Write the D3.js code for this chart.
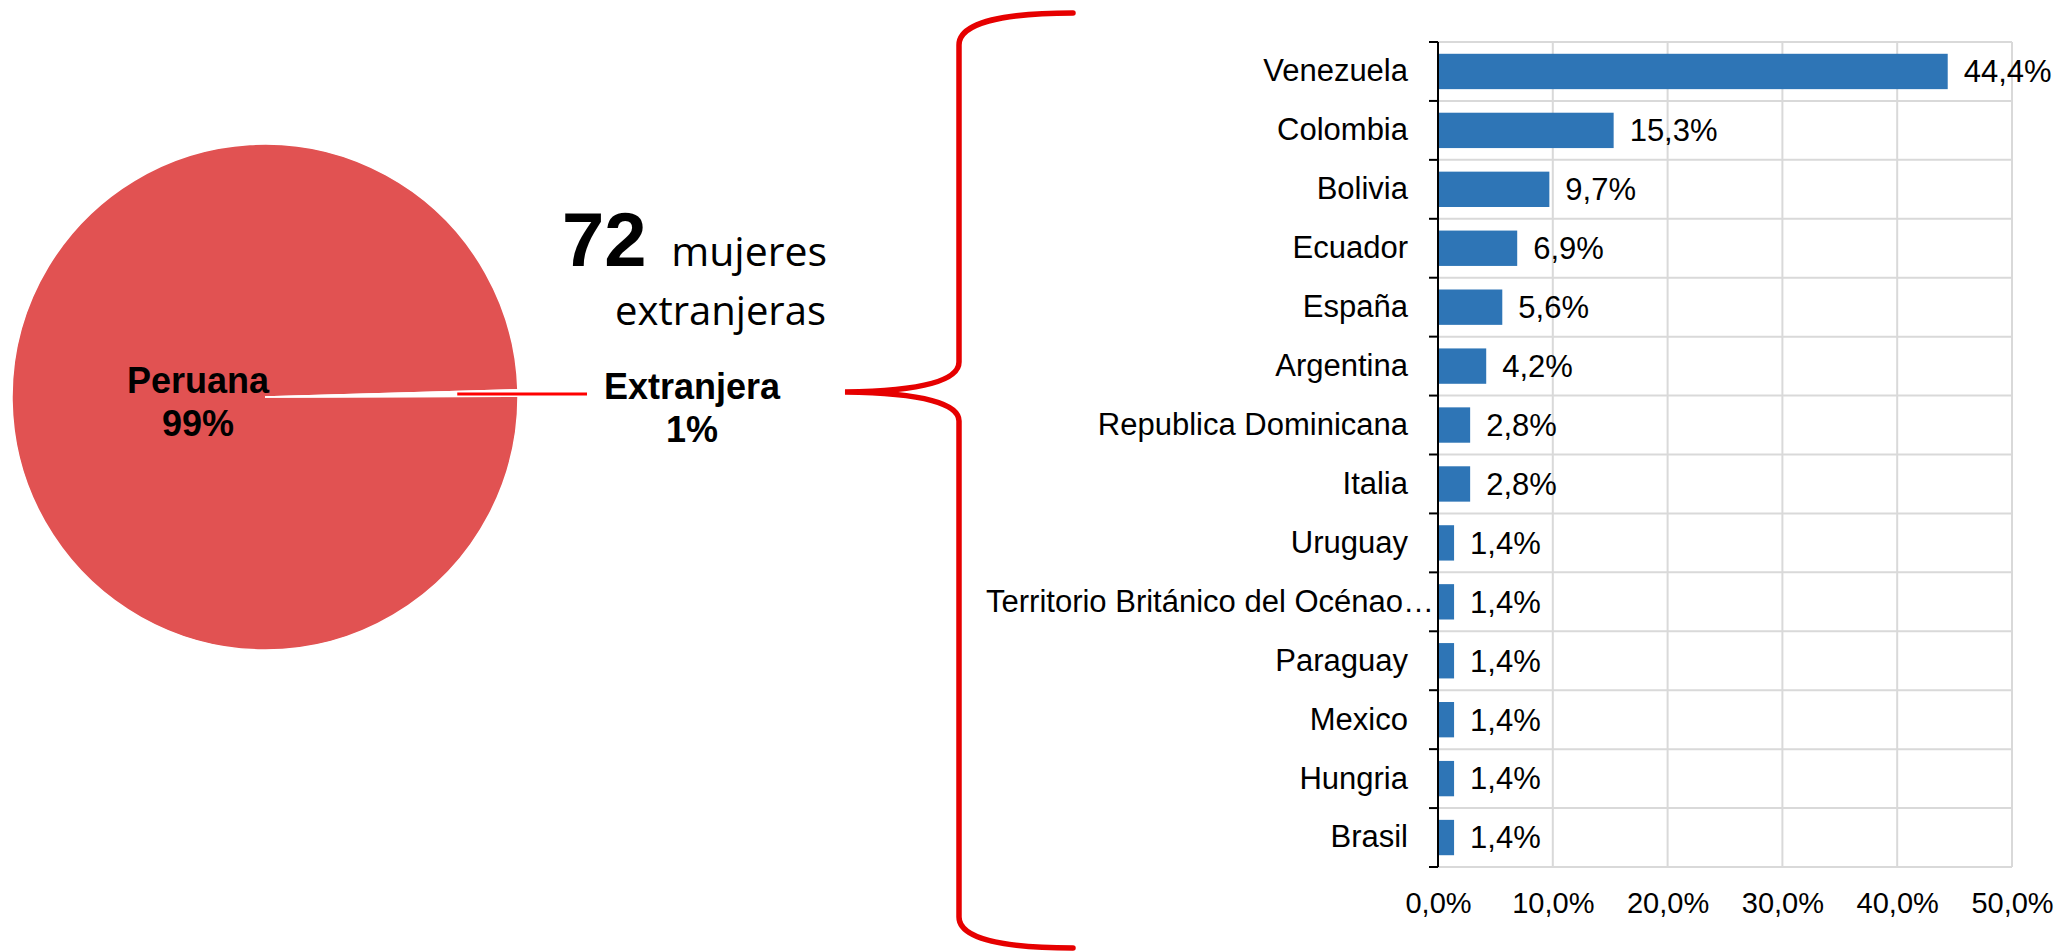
<!DOCTYPE html>
<html>
<head>
<meta charset="utf-8">
<script src="https://cdn.jsdelivr.net/npm/d3@7"></script>
<style>
  body { margin: 0; background: #fff; }
  svg { display: block; }
</style>
</head>
<body>
<svg id="chart"></svg>
<script>
// pie: share of women by nationality
const pieNames = ['Peruana', 'Extranjera'];
const pieShares = [99.6, 0.4]; // wedge size as drawn
const pieLabels = ['99%', '1%'];

// bars: foreign women by country of origin (%)
const countries = ['Venezuela', 'Colombia', 'Bolivia', 'Ecuador', 'España', 'Argentina',
    'Republica Dominicana', 'Italia', 'Uruguay', 'Territorio Británico del Océnao…',
    'Paraguay', 'Mexico', 'Hungria', 'Brasil'];
const shares = [44.4, 15.3, 9.7, 6.9, 5.6, 4.2, 2.8, 2.8, 1.4, 1.4, 1.4, 1.4, 1.4, 1.4];
const xTicks = [0, 10, 20, 30, 40, 50];

const totalCount = '72';
const totalText = ['mujeres', 'extranjeras'];

const width = 2060, height = 951;
const arialFont = '"Liberation Sans", Arial, sans-serif';
const fmt = v => v.toFixed(1).replace('.', ',') + '%';

const svg = d3.select('#chart')
    .attr('width', width)
    .attr('height', height)
    .style('background', '#fff');

// ---- pie ----
const cx = 265, cy = 397, r = 253;
const extMid = Math.PI / 2 - 0.016;
const extSpan = 2 * Math.PI * pieShares[1] / d3.sum(pieShares);
const a0 = extMid + extSpan / 2;

const pie = d3.pie().sort(null).value(d => d)
    .startAngle(a0).endAngle(a0 + 2 * Math.PI);
const arcs = pie(pieShares);
const arc = d3.arc().innerRadius(0).outerRadius(r);

const pieG = svg.append('g').attr('transform', `translate(${cx}, ${cy})`);

pieG.selectAll('path')
    .data(arcs)
    .join('path')
    .attr('d', arc)
    .attr('fill', (d, i) => i === 0 ? '#E15252' : '#fff')
    .attr('stroke', '#fff')
    .attr('stroke-width', 1.5);

// Peruana label inside the pie
const inLabel = d3.arc().innerRadius(67).outerRadius(67);
const [px, py] = inLabel.centroid(arcs[0]);
const peruLabel = pieG.append('text')
    .attr('text-anchor', 'middle')
    .attr('font-family', arialFont)
    .attr('font-weight', 'bold')
    .attr('font-size', 36)
    .attr('fill', '#000');
peruLabel.append('tspan').attr('x', px).attr('y', py - 5).text(pieNames[0]);
peruLabel.append('tspan').attr('x', px).attr('y', py + 38).text(pieLabels[0]);

// leader line for the small slice
const leadArc = d3.arc().innerRadius(r * 0.76).outerRadius(r * 0.76);
const [lx, ly] = leadArc.centroid(arcs[1]);
pieG.append('line')
    .attr('x1', lx).attr('y1', ly)
    .attr('x2', 587 - cx).attr('y2', ly)
    .attr('stroke', '#ff0000')
    .attr('stroke-width', 3);

const extLabel = svg.append('text')
    .attr('text-anchor', 'middle')
    .attr('font-family', arialFont)
    .attr('font-weight', 'bold')
    .attr('font-size', 36)
    .attr('fill', '#000');
extLabel.append('tspan').attr('x', 692).attr('y', 399).text(pieNames[1]);
extLabel.append('tspan').attr('x', 692).attr('y', 442).text(pieLabels[1]);

// "72 mujeres extranjeras"
svg.append('text')
    .attr('x', 562)
    .attr('y', 266)
    .attr('font-family', arialFont)
    .attr('font-weight', 'bold')
    .attr('font-size', 76)
    .attr('fill', '#000')
    .text(totalCount);
svg.append('text')
    .attr('text-anchor', 'end')
    .attr('x', 827)
    .attr('y', 266)
    .attr('font-family', '"Open Sans", sans-serif')
    .attr('font-size', 41)
    .attr('fill', '#000')
    .text(totalText[0]);
svg.append('text')
    .attr('text-anchor', 'end')
    .attr('x', 826)
    .attr('y', 325)
    .attr('font-family', '"Open Sans", sans-serif')
    .attr('font-size', 40)
    .attr('fill', '#000')
    .text(totalText[1]);

// red brace
svg.append('path')
    .attr('d', 'M1073,13 C1000,13 959,24 959,45 L959,362 C959,380 925,391 845,392 ' +
        'C925,393 959,404 959,421 L959,917 C959,938 1000,948 1073,948')
    .attr('fill', 'none')
    .attr('stroke', '#e60000')
    .attr('stroke-width', 5.5)
    .attr('stroke-linecap', 'round');

// ---- bar chart ----
const plot = { left: 1438, right: 2012, top: 42, bottom: 867 };

const x = d3.scaleLinear()
    .domain([0, 50])
    .range([plot.left, plot.right]);

const y = d3.scaleBand()
    .domain(countries)
    .range([plot.top, plot.bottom])
    .paddingInner(0.4)
    .paddingOuter(0.2);

const step = y.step();
const bounds = d3.range(countries.length + 1).map(i => plot.top + i * step);

// gridlines
svg.append('g')
    .selectAll('line')
    .data(xTicks.slice(1))
    .join('line')
    .attr('x1', d => x(d)).attr('x2', d => x(d))
    .attr('y1', plot.top).attr('y2', plot.bottom)
    .attr('stroke', '#d9d9d9')
    .attr('stroke-width', 2);

svg.append('g')
    .selectAll('line')
    .data(bounds)
    .join('line')
    .attr('x1', plot.left).attr('x2', plot.right)
    .attr('y1', d => d).attr('y2', d => d)
    .attr('stroke', '#d9d9d9')
    .attr('stroke-width', 2);

// bars
svg.append('g')
    .selectAll('rect')
    .data(countries)
    .join('rect')
    .attr('x', x(0))
    .attr('y', d => y(d))
    .attr('width', (d, i) => x(shares[i]) - x(0))
    .attr('height', y.bandwidth())
    .attr('fill', '#2E75B6');

// value labels
svg.append('g')
    .selectAll('text')
    .data(countries)
    .join('text')
    .attr('x', (d, i) => x(shares[i]) + 16)
    .attr('y', d => y(d) + y.bandwidth() / 2)
    .attr('dy', '0.35em')
    .attr('font-family', arialFont)
    .attr('font-size', 31)
    .attr('fill', '#000')
    .text((d, i) => fmt(shares[i]));

// x axis labels
const xAxis = d3.axisBottom(x)
    .tickValues(xTicks)
    .tickFormat(fmt)
    .tickSize(0)
    .tickPadding(25);

const xg = svg.append('g')
    .attr('transform', `translate(0, ${plot.bottom})`)
    .call(xAxis);
xg.select('.domain').remove();
xg.selectAll('text')
    .attr('font-family', arialFont)
    .attr('font-size', 29)
    .attr('fill', '#000');

// y axis: category labels
const yAxis = d3.axisLeft(y)
    .tickSize(0)
    .tickPadding(30);

const yg = svg.append('g')
    .attr('transform', `translate(${plot.left}, 0)`)
    .call(yAxis);
yg.select('.domain').remove();
yg.selectAll('text')
    .attr('font-family', arialFont)
    .attr('font-size', 31)
    .attr('fill', '#000')
    .attr('x', d => d.endsWith('…') ? -4 : -30);

// axis line and ticks between categories
svg.append('line')
    .attr('x1', plot.left).attr('x2', plot.left)
    .attr('y1', plot.top).attr('y2', plot.bottom)
    .attr('stroke', '#000')
    .attr('stroke-width', 2);

svg.append('g')
    .selectAll('line')
    .data(bounds)
    .join('line')
    .attr('x1', plot.left - 9).attr('x2', plot.left)
    .attr('y1', d => d).attr('y2', d => d)
    .attr('stroke', '#000')
    .attr('stroke-width', 2);
</script>
</body>
</html>
